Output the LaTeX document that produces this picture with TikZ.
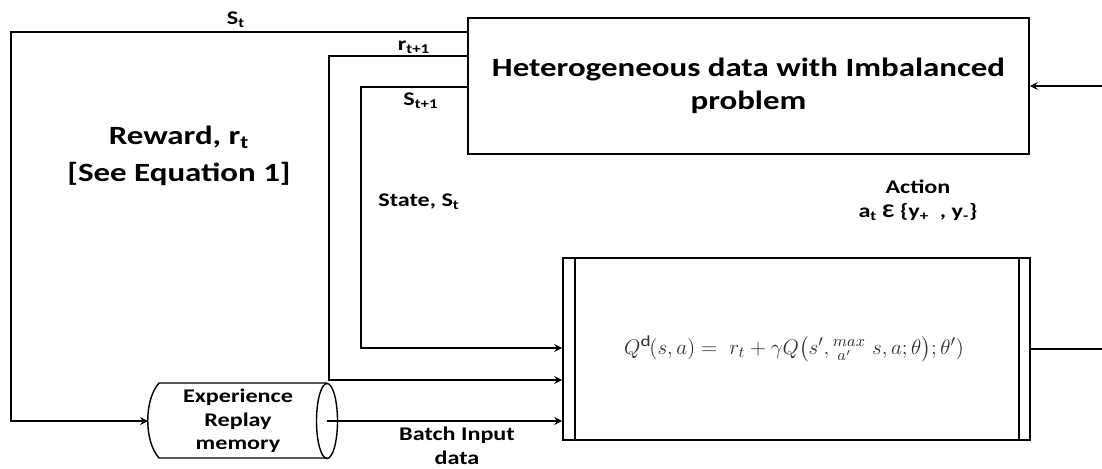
\documentclass[tikz,border=0pt]{standalone}
\usepackage{amsmath}
\usepackage{fontspec}
\setmainfont{Carlito}[FakeStretch=1.25]
\usetikzlibrary{calc,arrows.meta,positioning}
\definecolor{eqgray}{HTML}{2E2E2E}
\tikzset{
  box/.style={draw,line width=1pt,inner sep=0pt},
  flow/.style={line width=1pt,-stealth},
  lab/.style={font=\bfseries\fontsize{11}{13.5}\selectfont,align=center,inner sep=0pt}
}
\begin{document}
\begin{tikzpicture}[x=0.02cm,y=-0.02cm]
  \useasboundingbox (0,0) rectangle (1102,468);
  % environment
  \node[box,minimum width=11.22cm,minimum height=2.72cm,align=center,
        font=\bfseries\fontsize{15}{18.5}\selectfont](env)at(748.5,86){Heterogeneous data with Imbalanced\\problem};
  % Q network
  \node[box,minimum width=9.34cm,minimum height=3.64cm](qbox)at(796.5,349){};
  \draw[line width=1pt]($(qbox.north west)+(13,0)$)to($(qbox.south west)+(13,0)$);
  \draw[line width=1pt]($(qbox.north east)+(-12,0)$)to($(qbox.south east)+(-12,0)$);
  \node[font=\fontsize{12.5}{14}\selectfont,text=eqgray](eq)at(794,349)
    {$Q^{\mathrm{d}}(s,a) =\ r_t + \gamma Q\bigl(s', {}^{max}_{\;a'}\ s,a;\theta\bigr);\theta')$};
  % replay memory
  \coordinate(memW)at(148,421);
  \coordinate(memE)at(327,421);
  \draw[line width=0.8pt](327,383)--(159,383)..controls(144,400)and(144,441)..(159,458)--(327,458);
  \draw[line width=0.8pt](memE)ellipse[x radius=0.21cm,y radius=0.75cm];
  \node[lab](mem)at(238,421){Experience\\Replay\\memory};
  % arrows
  \draw[flow](env.west|-0,32)-|(11,421)to(memW);
  \draw[flow](env.west|-0,56)-|(329,380)to(qbox.west|-0,380);
  \draw[flow](env.west|-0,87)-|(361,348)to(qbox.west|-0,348);
  \draw[flow](memE)to(qbox.west|-memE);
  \draw[flow](qbox.east)-|(1106,200)|-(env.east);
  % labels
  \node[lab](st)at(236,20){S\textsubscript{t}};
  \node[lab](rt1)at(414,47){r\textsubscript{t+1}};
  \node[lab](st1)at(421,101){S\textsubscript{t+1}};
  \node[lab,font=\bfseries\fontsize{15}{21}\selectfont](rew)at(179,156){Reward, r\textsubscript{t}\\{}[See Equation 1]};
  \node[lab](state)at(419,202){State, S\textsubscript{t}};
  \node[lab](act)at(918,200){Action\\a\textsubscript{t} Ɛ \{y\textsubscript{+}~~, y\textsubscript{-}\}};
  \node[lab](batch)at(457,446){Batch Input\\data};
\end{tikzpicture}
\end{document}
